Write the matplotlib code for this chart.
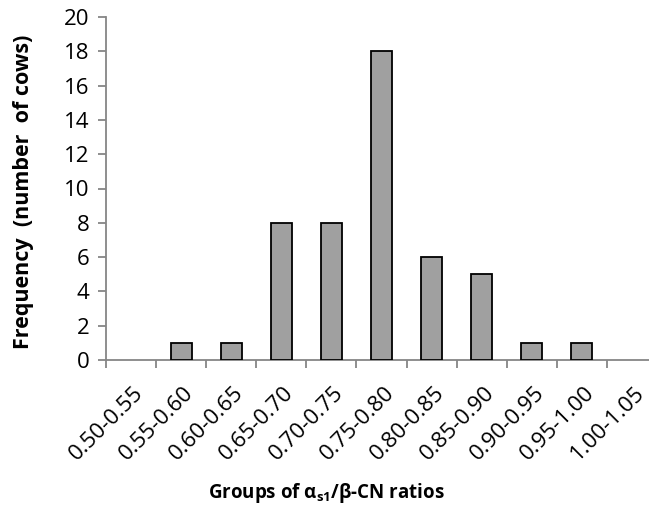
import matplotlib
matplotlib.use("Agg")
from matplotlib import pyplot as plt
from matplotlib import transforms
import numpy as np

# ratio groups and number of cows in each group
groups = ['0.50-0.55', '0.55-0.60', '0.60-0.65', '0.65-0.70', '0.70-0.75',
          '0.75-0.80', '0.80-0.85', '0.85-0.90', '0.90-0.95', '0.95-1.00',
          '1.00-1.05']
cows = [0, 1, 1, 8, 8, 18, 6, 5, 1, 1, 0]

plt.rcParams['font.family'] = ['Open Sans', 'DejaVu Sans']
plt.rcParams['mathtext.fontset'] = 'custom'
plt.rcParams['mathtext.rm'] = 'Open Sans:bold'
plt.rcParams['mathtext.bf'] = 'Open Sans:bold'
plt.rcParams['mathtext.it'] = 'Open Sans:bold'

W, H = 649, 514
fig = plt.figure(figsize=(W / 100, H / 100), dpi=100)
ax = fig.add_axes([106 / W, (H - 360) / H, 551 / W, 343 / H])

axis_grey = '#868686'
x = np.arange(len(groups))
# empty groups get no outline
edge_w = [1.3 if c > 0 else 0 for c in cows]
ax.bar(x, cows, width=0.42, color='#a0a0a0', edgecolor='black', linewidth=edge_w, zorder=3)

ax.set_xlim(-0.5, len(groups) - 0.5)
ax.set_ylim(0, 20)
ax.set_yticks(range(0, 21, 2))

# boundary ticks without labels, labels sit on the category centres
ax.set_xticks(np.arange(len(groups) + 1) - 0.5)
ax.set_xticklabels([])
ax.set_xticks(x, minor=True)
ax.set_xticklabels(groups, minor=True, rotation=45, ha='right', va='top',
                   rotation_mode='anchor', fontsize=16)
ax.tick_params(axis='x', which='minor', length=0, pad=16)
ax.tick_params(axis='x', which='major', length=6, width=1.3, color=axis_grey, direction='out')
ax.tick_params(axis='y', length=6, width=1.3, color=axis_grey, direction='out', labelsize=16, pad=6)

shift = transforms.ScaledTranslation(2 / 100, 0, fig.dpi_scale_trans)
for lab in ax.get_xticklabels(minor=True):
    lab.set_transform(lab.get_transform() + shift)

for side in ['top', 'right']:
    ax.spines[side].set_visible(False)
for side in ['left', 'bottom']:
    ax.spines[side].set_color(axis_grey)
    ax.spines[side].set_linewidth(1.3)

fig.text(24 / W, 1 - 192 / H, 'Frequency  (number  of cows)', rotation=90,
         ha='center', va='center', fontsize=15.5, fontweight='bold')
fig.text(326 / W, 1 - 493 / H, r'Groups of α$_{\mathbf{s1}}$/β-CN ratios',
         ha='center', va='center', fontsize=13.5, fontweight='bold')

fig.savefig('out.png', dpi=100)
